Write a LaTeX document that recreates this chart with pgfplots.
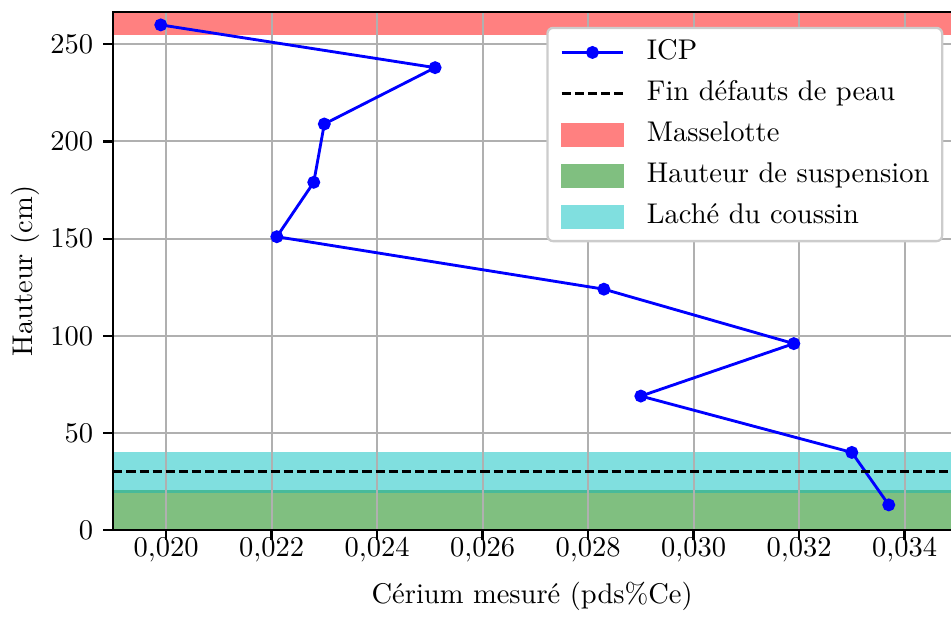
\documentclass[border=0pt]{standalone}
\usepackage{fontspec}
\usepackage{pgfplots}
\pgfplotsset{compat=1.18}
\definecolor{gridgray}{HTML}{B0B0B0}
\definecolor{bandred}{HTML}{FF8080}
\definecolor{bandgreen}{HTML}{80BF80}
\definecolor{bandcyan}{HTML}{80DFDF}
\definecolor{bandstrip}{HTML}{48BA9A}
\definecolor{legframe}{HTML}{CCCCCC}
\pgfplotsset{
  icplegend/.style={legend image code/.code={\draw[sharp corners,mark repeat=2,mark phase=2,##1] plot coordinates {(0pt,0pt) (10.8pt,0pt) (21.6pt,0pt)};}},
  dashlegend/.style={legend image code/.code={\draw[sharp corners,##1] (0pt,0pt) -- (21.6pt,0pt);}},
  patchlegend/.style={legend image code/.code={\fill[sharp corners,#1] (0pt,-3.8pt) rectangle (21.6pt,3.8pt);}},
}
\begin{document}
\begin{tikzpicture}
\begin{axis}[
  set layers,
  scale only axis, width=293.9pt, height=181.9pt,
  xmin=0.019, xmax=0.03488, ymin=0, ymax=266.8,
  xtick={0.020,0.022,0.024,0.026,0.028,0.030,0.032,0.034},
  ytick={0,50,100,150,200,250},
  scaled x ticks=false,
  xticklabel style={/tikz/yshift=4.3pt, /pgf/number format/.cd,fixed,fixed zerofill,precision=3,use comma},
  tick align=outside, major tick length=3.5pt,
  tick style={black, line width=0.8pt},
  tick pos=left,
  grid=major, major grid style={gridgray, line width=0.7pt},
  axis line style={draw=none},
  xlabel={Cérium mesuré (pds\%Ce)},
  ylabel={Hauteur (cm)},
  xlabel style={at={(axis description cs:0.5,-0.1407)}, anchor=base},
  ylabel style={at={(axis description cs:-0.0960,0.5)}, anchor=base},
  legend cell align=left,
  legend style={at={(1,1)}, anchor=north east, xshift=-2.7pt, yshift=-5.3pt,
    draw=legframe, line width=0.8pt, rounded corners=2pt, fill=white,
    inner xsep=4.5pt, inner ysep=4pt, row sep=5.2pt, column sep=7.8pt,
    nodes={inner sep=0pt, text height=7pt, text depth=2.2pt}},
]
% bands (below the grid)
\addplot[on layer=axis background, draw=none, fill=bandred, forget plot]
  coordinates {(0.019,255) (0.03488,255) (0.03488,266.8) (0.019,266.8)} -- cycle;
\addplot[on layer=axis background, draw=none, fill=bandgreen, forget plot]
  coordinates {(0.019,0) (0.03488,0) (0.03488,20) (0.019,20)} -- cycle;
\addplot[on layer=axis background, draw=none, fill=bandcyan, forget plot]
  coordinates {(0.019,20) (0.03488,20) (0.03488,40) (0.019,40)} -- cycle;
\addplot[on layer=axis background, bandstrip, line width=0.9pt, forget plot]
  coordinates {(0.019,20) (0.03488,20)};
% ICP
\addplot[blue, line width=1pt, mark=*, mark size=1.75pt, mark options={solid, fill=blue}, icplegend]
  coordinates {
  (0.0199,260) (0.0251,238) (0.0230,209) (0.0228,179) (0.0221,151)
  (0.0283,124) (0.0319,96) (0.0290,69) (0.0330,40) (0.0337,13)};
\addlegendentry{ICP}
\addplot[black, line width=1pt, dash pattern=on 3.2pt off 1.4pt, dashlegend]
  coordinates {(0.019,30) (0.03488,30)};
\addlegendentry{Fin défauts de peau}
\addlegendimage{patchlegend=bandred}
\addlegendentry{Masselotte}
\addlegendimage{patchlegend=bandgreen}
\addlegendentry{Hauteur de suspension}
\addlegendimage{patchlegend=bandcyan}
\addlegendentry{Laché du coussin}
\end{axis}
\draw[line width=0.8pt] (current axis.north east) -- (current axis.north west)
  -- (current axis.south west) -- (current axis.south east);
\path (current axis.south west) ++(-39.75pt,-33.7pt) coordinate (bbA);
\path (current axis.north east) ++(0pt,4.1pt) coordinate (bbB);
\pgfresetboundingbox
\path[use as bounding box] (bbA) rectangle (bbB);
\end{tikzpicture}
\end{document}
